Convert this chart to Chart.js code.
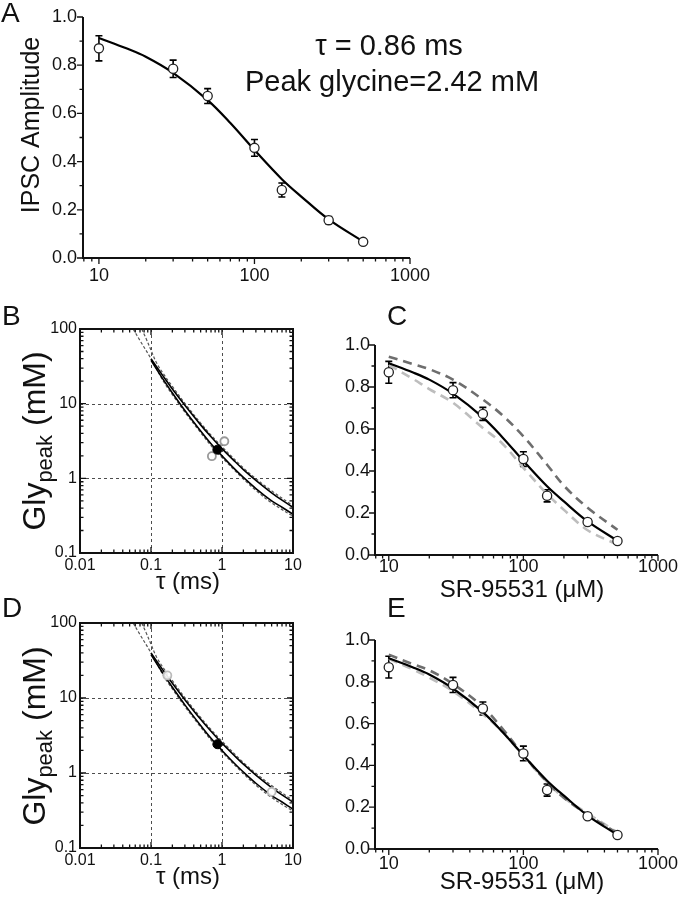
<!DOCTYPE html>
<html>
<head>
<meta charset="utf-8">
<script src="https://cdn.jsdelivr.net/npm/chart.js@4.4.1/dist/chart.umd.min.js"></script>
<style>
html, body { margin: 0; padding: 0; background: #fff; }
#fig { position: relative; width: 678px; height: 899px; overflow: hidden; }
#fig canvas { position: absolute; left: 0; top: 0; }
</style>
</head>
<body>
<div id="fig">
  <canvas id="cA" width="678" height="899"></canvas>
  <canvas id="cB" width="678" height="899"></canvas>
  <canvas id="cC" width="678" height="899"></canvas>
  <canvas id="cD" width="678" height="899"></canvas>
  <canvas id="cE" width="678" height="899"></canvas>
</div>
<script>
// SR-95531 (uM) vs normalised IPSC amplitude, mean +/- sem
const srConc = [10, 30, 50, 100, 150, 300, 500];
const ipscAmp = [0.87, 0.785, 0.672, 0.457, 0.282, 0.157, 0.067];
const ipscErr = [0.052, 0.036, 0.031, 0.035, 0.029, 0.015, 0.01];

// model curves
const fitConc = [10, 15, 20, 30, 50, 70, 100, 150, 200, 300, 500];
const fitBest = [0.913, 0.87, 0.835, 0.768, 0.655, 0.56, 0.448, 0.327, 0.255, 0.16, 0.068];
const fitHiC = [0.944, 0.91, 0.885, 0.835, 0.74, 0.665, 0.565, 0.43, 0.33, 0.225, 0.12];
const fitLoC = [0.905, 0.84, 0.79, 0.725, 0.605, 0.53, 0.415, 0.29, 0.215, 0.118, 0.05];
const fitHiE = [0.93, 0.885, 0.855, 0.79, 0.68, 0.575, 0.45, 0.32, 0.245, 0.165, 0.075];
const fitLoE = [0.91, 0.86, 0.82, 0.755, 0.645, 0.56, 0.445, 0.32, 0.245, 0.17, 0.08];

// tau (ms) vs peak glycine (mM) solutions
const tauGrid = [0.1, 0.15, 0.2, 0.3, 0.5, 0.7, 1, 1.5, 2, 3, 5, 7, 10];
const glyUpper = [40, 23, 15.7, 9.5, 5.2, 3.6, 2.5, 1.7, 1.31, 0.94, 0.64, 0.51, 0.41];
const glyLower = [38, 20.8, 13.9, 8.1, 4.3, 2.9, 2.0, 1.34, 1.03, 0.73, 0.5, 0.41, 0.33];
const tauBandHi = [0.074, 0.085, 0.1, 0.12, 0.15, 0.2, 0.3, 0.5, 0.7, 1, 2, 3, 5, 10];
const glyBandHi = [100, 75, 52, 35, 25, 17, 10.1, 5.5, 3.8, 2.65, 1.38, 0.99, 0.68, 0.43];
const tauBandLo = [0.056, 0.07, 0.1, 0.15, 0.2, 0.3, 0.5, 0.7, 1, 2, 3, 5, 10];
const glyBandLo = [100, 70, 40, 19.8, 13.2, 7.7, 4.1, 2.75, 1.9, 0.98, 0.69, 0.47, 0.31];

const tauBest = [0.86], glyBest = [2.42];
const tauB = [0.72, 1.08], glyB = [1.98, 3.14];
const tauD = [0.17, 5.0], glyD = [20, 0.56];

// tick labels
const concTicks = [10, 100, 1000];
const ampTicks = [0, 0.2, 0.4, 0.6, 0.8, 1.0];
const ampMinor = [0.1, 0.3, 0.5, 0.7, 0.9];
const tauTicks = [0.01, 0.1, 1, 10];
const glyTicks = [0.1, 1, 10, 100];

const W = 678, H = 899;
const FONT = '"Liberation Sans", Arial, Helvetica, sans-serif';
Chart.defaults.font.family = FONT;
Chart.defaults.color = '#111';

const pts = (xs, ys) => xs.map((x, i) => ({ x, y: ys[i] }));

// 2..9 minor positions of a log axis
function logMinor(lo, hi) {
  const out = [];
  for (let e = -3; e <= 3; e++) {
    for (let k = 2; k <= 9; k++) {
      const v = +(k * Math.pow(10, e)).toPrecision(3);
      if (v >= lo * 0.999 && v <= hi * 1.001) out.push(v);
    }
  }
  return out;
}

const deco = {
  id: 'deco',
  beforeDatasetsDraw(chart, args, o) {
    const { ctx, chartArea: a, scales: { x, y } } = chart;
    ctx.save();
    if (o.grid) {
      ctx.strokeStyle = '#4d4d4d';
      ctx.lineWidth = 1;
      ctx.setLineDash([3, 3]);
      ctx.beginPath();
      o.grid.x.forEach(v => {
        const p = Math.round(x.getPixelForValue(v)) + 0.5;
        ctx.moveTo(p, a.top); ctx.lineTo(p, a.bottom);
      });
      o.grid.y.forEach(v => {
        const p = Math.round(y.getPixelForValue(v)) + 0.5;
        ctx.moveTo(a.left, p); ctx.lineTo(a.right, p);
      });
      ctx.stroke();
      ctx.setLineDash([]);
    }
    if (o.err) {
      ctx.strokeStyle = '#000';
      ctx.lineWidth = 1.6;
      ctx.beginPath();
      srConc.forEach((v, i) => {
        const px = x.getPixelForValue(v);
        const hi = y.getPixelForValue(ipscAmp[i] + ipscErr[i]);
        const lo = y.getPixelForValue(ipscAmp[i] - ipscErr[i]);
        ctx.moveTo(px, hi); ctx.lineTo(px, lo);
        ctx.moveTo(px - 3.5, hi); ctx.lineTo(px + 3.5, hi);
        ctx.moveTo(px - 3.5, lo); ctx.lineTo(px + 3.5, lo);
      });
      ctx.stroke();
    }
    ctx.restore();
  },
  afterDraw(chart, args, o) {
    const { ctx, chartArea: a, scales: { x, y } } = chart;
    const box = o.frame === 'box';
    ctx.save();
    ctx.strokeStyle = '#111';
    ctx.lineWidth = 2;
    if (box) {
      ctx.strokeRect(a.left, a.top, a.right - a.left, a.bottom - a.top);
    } else {
      ctx.beginPath();
      ctx.moveTo(a.left, a.top); ctx.lineTo(a.left, a.bottom); ctx.lineTo(a.right, a.bottom);
      ctx.stroke();
    }
    ctx.lineWidth = 1.3;
    ctx.beginPath();
    const tx = (v, len, edge, dir) => { const p = x.getPixelForValue(v); ctx.moveTo(p, edge); ctx.lineTo(p, edge + dir * len); };
    const ty = (v, len, edge, dir) => { const p = y.getPixelForValue(v); ctx.moveTo(edge, p); ctx.lineTo(edge + dir * len, p); };
    o.xMajor.forEach(v => { tx(v, 6, a.bottom, box ? -1 : 1); if (box) tx(v, 6, a.top, 1); });
    o.xMinor.forEach(v => { tx(v, 3.5, a.bottom, box ? -1 : 1); if (box) tx(v, 3.5, a.top, 1); });
    o.yMajor.forEach(v => { ty(v, 6, a.left, box ? 1 : -1); if (box) ty(v, 6, a.right, -1); });
    o.yMinor.forEach(v => { ty(v, 3.5, a.left, box ? 1 : -1); if (box) ty(v, 3.5, a.right, -1); });
    ctx.stroke();

    ctx.fillStyle = '#111';
    (o.texts || []).forEach(t => {
      ctx.save();
      ctx.font = t.size + 'px ' + FONT;
      ctx.textAlign = t.align || 'left';
      ctx.textBaseline = 'alphabetic';
      ctx.translate(t.x, t.y);
      if (t.rot) ctx.rotate(-Math.PI / 2);
      ctx.fillText(t.t, 0, 0);
      ctx.restore();
    });

    if (o.gly) {
      // Gly with subscript "peak", rotated
      ctx.save();
      ctx.translate(o.gly.x, o.gly.y);
      ctx.rotate(-Math.PI / 2);
      ctx.textBaseline = 'alphabetic';
      ctx.textAlign = 'left';
      const big = '32px ' + FONT, small = '22px ' + FONT;
      ctx.font = big; const w1 = ctx.measureText('Gly').width, w3 = ctx.measureText(' (mM)').width;
      ctx.font = small; const w2 = ctx.measureText('peak').width;
      let s = -(w1 + w2 + w3) / 2;
      ctx.font = big; ctx.fillText('Gly', s, 0); s += w1;
      ctx.font = small; ctx.fillText('peak', s, 7); s += w2;
      ctx.font = big; ctx.fillText(' (mM)', s, 0);
      ctx.restore();
    }
    ctx.restore();
  }
};
Chart.register(deco);

function axis(type, min, max, ticks, fmt, pad, size) {
  return {
    type, min, max, bounds: 'data',
    afterBuildTicks: s => { s.ticks = ticks.map(v => ({ value: v })); },
    ticks: { callback: fmt, autoSkip: false, maxRotation: 0, padding: pad, font: { size } },
    grid: { display: false, drawTicks: false },
    border: { display: false }
  };
}

function panel(id, L, T, R, B, scales, datasets, opts) {
  scales.x.afterFit = s => { s.height = 40; s.paddingLeft = 0; s.paddingRight = 0; };
  scales.y.afterFit = s => { s.width = 50; s.paddingTop = 0; s.paddingBottom = 0; };
  return new Chart(document.getElementById(id), {
    type: 'line',
    data: { datasets },
    options: {
      responsive: false,
      animation: false,
      events: [],
      layout: { padding: { left: L - 50, top: T, right: W - R, bottom: H - B - 40 } },
      scales,
      plugins: { legend: { display: false }, tooltip: { enabled: false }, deco: opts }
    }
  });
}

const curve = (xs, ys, color, width, dash, order) => ({
  data: pts(xs, ys), borderColor: color, borderWidth: width, borderDash: dash,
  pointRadius: 0, fill: false, tension: 0.35, order
});
const marks = (xs, ys, stroke, bg, r, bw, order) => ({
  data: pts(xs, ys), showLine: false, pointRadius: r, pointBorderColor: stroke,
  pointBackgroundColor: bg, pointBorderWidth: bw, borderColor: stroke, order
});

const fmtConc = v => String(v);
const fmtAmp = v => v.toFixed(1);
const ampMarks = () => marks(srConc, ipscAmp, '#222', '#fff', 4.6, 1.3, 0);
const ampDeco = (texts) => ({
  frame: 'axes', err: true, texts,
  xMajor: concTicks, xMinor: logMinor(7.9, 1000), yMajor: ampTicks, yMinor: ampMinor
});
const glyDeco = (texts, gy) => ({
  frame: 'box', grid: { x: [0.1, 1], y: [1, 10] }, texts, gly: { x: 45, y: gy },
  xMajor: tauTicks, xMinor: logMinor(0.01, 10), yMajor: glyTicks, yMinor: logMinor(0.1, 100)
});
const glyData = (xs, ys, stroke) => [
  curve(tauBandHi, glyBandHi, '#555', 1.2, [3, 2], 5),
  curve(tauBandLo, glyBandLo, '#555', 1.2, [3, 2], 5),
  curve(tauGrid, glyUpper, '#000', 1.6, [], 4),
  curve(tauGrid, glyLower, '#000', 1.6, [], 4),
  marks(xs, ys, stroke, 'rgba(255,255,255,0.9)', 4, 1.8, 1),
  marks(tauBest, glyBest, '#000', '#000', 4.5, 1, 0)
];

// A
panel('cA', 83, 17, 410, 258, {
  x: axis('logarithmic', 7.9, 1000, concTicks, fmtConc, 7, 18),
  y: axis('linear', 0, 1, ampTicks, fmtAmp, 6, 18)
}, [
  curve(fitConc, fitBest, '#000', 2.2, [], 2),
  ampMarks()
], ampDeco([
  { t: 'A', x: 1, y: 22, size: 28 },
  { t: 'IPSC Amplitude', x: 39, y: 125, size: 25, rot: true, align: 'center' },
  { t: 'τ = 0.86 ms', x: 389, y: 55, size: 29, align: 'center' },
  { t: 'Peak glycine=2.42 mM', x: 392, y: 91, size: 29, align: 'center' }
]));

// B
panel('cB', 80, 329, 293, 553, {
  x: axis('logarithmic', 0.01, 10, tauTicks, fmtConc, 3, 16),
  y: axis('logarithmic', 0.1, 100, glyTicks, fmtConc, 3, 16)
}, glyData(tauB, glyB, '#999'), glyDeco([
  { t: 'B', x: 2, y: 325, size: 28 },
  { t: 'τ (ms)', x: 188, y: 589, size: 24, align: 'center' }
], 441));

// C
panel('cC', 375, 345, 658, 555, {
  x: axis('logarithmic', 7.9, 1000, concTicks, fmtConc, 1, 18),
  y: axis('linear', 0, 1, ampTicks, fmtAmp, 5, 18)
}, [
  curve(fitConc, fitHiC, '#6e6e6e', 2.6, [9, 6], 3),
  curve(fitConc, fitLoC, '#bdbdbd', 2.6, [9, 6], 3),
  curve(fitConc, fitBest, '#000', 2.2, [], 2),
  ampMarks()
], ampDeco([
  { t: 'C', x: 387, y: 325, size: 28 },
  { t: 'SR-95531 (μM)', x: 522, y: 597, size: 24, align: 'center' }
]));

// D
panel('cD', 80, 623, 293, 848, {
  x: axis('logarithmic', 0.01, 10, tauTicks, fmtConc, 3, 16),
  y: axis('logarithmic', 0.1, 100, glyTicks, fmtConc, 3, 16)
}, glyData(tauD, glyD, '#bbb'), glyDeco([
  { t: 'D', x: 2, y: 617, size: 28 },
  { t: 'τ (ms)', x: 188, y: 884, size: 24, align: 'center' }
], 736));

// E
panel('cE', 375, 640, 658, 849, {
  x: axis('logarithmic', 7.9, 1000, concTicks, fmtConc, 4, 18),
  y: axis('linear', 0, 1, ampTicks, fmtAmp, 5, 18)
}, [
  curve(fitConc, fitHiE, '#6e6e6e', 2.6, [9, 6], 3),
  curve(fitConc, fitLoE, '#bdbdbd', 2.6, [9, 6], 3),
  curve(fitConc, fitBest, '#000', 2.2, [], 2),
  ampMarks()
], ampDeco([
  { t: 'E', x: 387, y: 617, size: 28 },
  { t: 'SR-95531 (μM)', x: 522, y: 889, size: 24, align: 'center' }
]));
</script>
</body>
</html>
